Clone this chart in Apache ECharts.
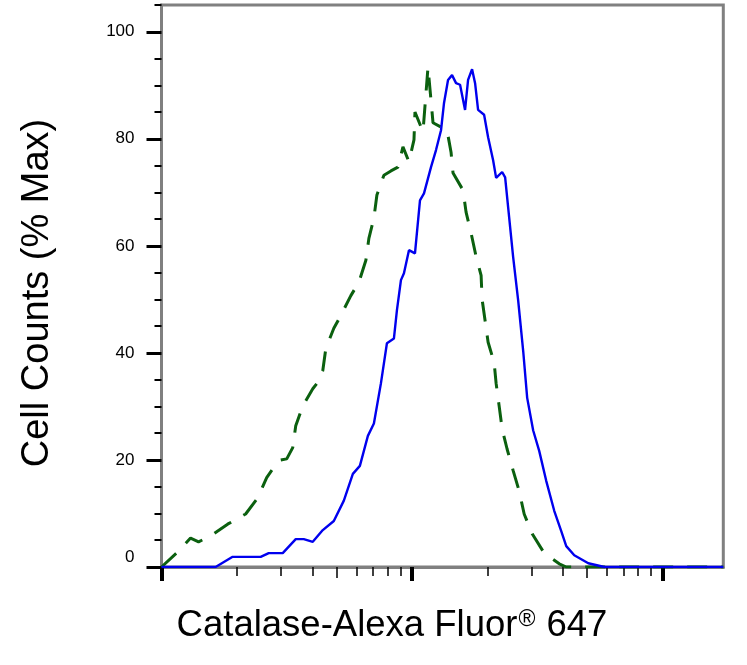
<!DOCTYPE html>
<html>
<head>
<meta charset="utf-8">
<script src="https://cdn.jsdelivr.net/npm/echarts@6/dist/echarts.min.js"></script>
<style>
  html, body { margin: 0; padding: 0; background: #fff; }
  #chart { width: 747px; height: 665px; }
</style>
</head>
<body>
<div id="chart"></div>
<script>
// Fluorescence intensity in decades (log10 units from the left edge of the axis)
const blueX = [0.000, 0.216, 0.284, 0.396, 0.428, 0.484, 0.536, 0.568, 0.604, 0.644, 0.688, 0.728, 0.764, 0.792, 0.824, 0.848, 0.876, 0.900, 0.928, 0.940, 0.956, 0.968, 0.988, 1.012, 1.032, 1.048, 1.076, 1.096, 1.116, 1.128, 1.144, 1.160, 1.176, 1.192, 1.212, 1.224, 1.240, 1.252, 1.264, 1.288, 1.304, 1.324, 1.336, 1.360, 1.372, 1.384, 1.404, 1.424, 1.444, 1.460, 1.484, 1.508, 1.536, 1.568, 1.596, 1.616, 1.648, 1.704, 1.768, 2.243];
const blueY = [0, 0, 1.9, 1.9, 2.6, 2.6, 5.2, 5.2, 4.7, 6.9, 8.6, 12.4, 17.4, 18.9, 24.5, 26.8, 34.3, 41.8, 42.7, 48.0, 53.6, 54.9, 59.2, 58.6, 68.5, 69.8, 74.7, 77.9, 81.6, 86.7, 91.0, 91.9, 90.4, 90.1, 85.4, 91.0, 93.0, 90.4, 85.4, 84.5, 80.3, 76.0, 72.7, 73.8, 72.8, 67.2, 57.9, 49.8, 40.4, 31.6, 25.5, 21.7, 16.1, 10.5, 6.7, 3.9, 2.2, 0.7, 0, 0];

const greenX = [0.000, 0.060, 0.116, 0.148, 0.196, 0.264, 0.336, 0.384, 0.420, 0.468, 0.500, 0.524, 0.536, 0.564, 0.604, 0.624, 0.644, 0.656, 0.688, 0.716, 0.756, 0.788, 0.816, 0.828, 0.848, 0.860, 0.888, 0.916, 0.944, 0.964, 0.988, 1.008, 1.012, 1.044, 1.064, 1.084, 1.140, 1.156, 1.164, 1.204, 1.216, 1.236, 1.256, 1.276, 1.280, 1.292, 1.304, 1.328, 1.336, 1.348, 1.360, 1.380, 1.404, 1.428, 1.448, 1.480, 1.528, 1.588, 1.616, 2.243];
const greenY = [0, 2.6, 5.4, 4.7, 5.8, 8.0, 9.9, 12.9, 16.7, 19.9, 20.2, 22.3, 26.4, 30.1, 33.3, 34.5, 36.7, 40.8, 44.6, 47.0, 50.7, 53.2, 57.3, 61.4, 65.2, 69.5, 73.2, 74.0, 74.7, 78.5, 75.7, 79.8, 85.0, 81.3, 93.4, 83.0, 81.6, 77.5, 73.6, 70.4, 66.3, 62.4, 58.0, 54.5, 50.0, 46.0, 42.0, 38.2, 34.3, 30.1, 25.8, 22.0, 18.0, 14.2, 9.9, 6.2, 2.6, 0.6, 0, 0];

const yMajorTicks = [0, 20, 40, 60, 80, 100];
const yMinorTicks = [5, 10, 15, 25, 30, 35, 45, 50, 55, 65, 70, 75, 85, 90, 95, 105];
const xMajorDecades = [0, 1, 2];
const xMinorFactors = [2, 3, 4, 6, 7, 8, 9];
const xMidFactors = [5];

const xTitle = 'Catalase-Alexa Fluor';
const xTitleMark = '®';
const xTitleTail = ' 647';
const yTitle = 'Cell Counts (% Max)';

const X_MAX = 2.243;
const Y_MAX = 105;
const FONT = '"Liberation Sans", Arial, sans-serif';

function zip(xs, ys) { return xs.map((x, i) => [x, ys[i]]); }
function decadeTicks(factors) {
  const out = [];
  xMajorDecades.forEach(d => factors.forEach(f => {
    const v = d + Math.log10(f);
    if (v <= X_MAX) out.push(v);
  }));
  return out;
}

const chart = echarts.init(document.getElementById('chart'), null, { renderer: 'canvas' });

const hiddenLine = { show: false };
function xAxisTicks(values, len, width) {
  return {
    type: 'value', min: 0, max: X_MAX, position: 'bottom', gridIndex: 0,
    axisLine: hiddenLine, splitLine: { show: false }, axisLabel: { show: false },
    axisTick: { show: true, customValues: values, length: len, lineStyle: { color: '#000', width: width } }
  };
}

chart.setOption({
  animation: false,
  backgroundColor: '#fff',
  grid: {
    left: 161.5, right: 23.7, top: 5, bottom: 98,
    show: true, borderColor: '#808080', borderWidth: 3, backgroundColor: 'transparent'
  },
  xAxis: [
    {
      type: 'value', min: 0, max: X_MAX, position: 'bottom',
      axisLine: { show: true, lineStyle: { color: '#808080', width: 3 } },
      splitLine: { show: false },
      axisLabel: { show: false },
      axisTick: { show: true, customValues: xMajorDecades, length: 14, lineStyle: { color: '#000', width: 4 } }
    },
    xAxisTicks(decadeTicks(xMinorFactors), 9, 1.5),
    xAxisTicks(decadeTicks(xMidFactors), 11, 1.5)
  ],
  yAxis: [
    {
      type: 'value', min: 0, max: Y_MAX, position: 'left',
      axisLine: { show: true, lineStyle: { color: '#808080', width: 3 } },
      splitLine: { show: false },
      axisTick: { show: true, customValues: yMajorTicks, length: 15, lineStyle: { color: '#000', width: 3 } },
      axisLabel: {
        show: true, customValues: yMajorTicks, margin: 27,
        color: '#000', fontFamily: FONT, fontSize: 17,
        formatter: v => v === 0 ? '{z|0}' : String(v),
        rich: { z: { fontFamily: FONT, fontSize: 17, color: '#000', padding: [0, 0, 19, 0] } }
      }
    },
    {
      type: 'value', min: 0, max: Y_MAX, position: 'left',
      axisLine: hiddenLine, splitLine: { show: false }, axisLabel: { show: false },
      axisTick: { show: true, customValues: yMinorTicks, length: 7, lineStyle: { color: '#000', width: 2 } }
    }
  ],
  graphic: [
    {
      type: 'text', x: 392, y: 626,
      style: {
        text: '{a|' + xTitle + '}{r|' + xTitleMark + '}{a|' + xTitleTail + '}',
        align: 'center', verticalAlign: 'middle',
        textAlign: 'center', textVerticalAlign: 'middle',
        fill: '#000',
        rich: {
          a: { fontFamily: FONT, fontSize: 36.5, fill: '#000', color: '#000' },
          r: { fontFamily: FONT, fontSize: 23, fill: '#000', color: '#000', padding: [0, 1, 12, 1] }
        }
      }
    },
    {
      type: 'text', x: 38, y: 293, rotation: Math.PI / 2,
      style: {
        text: yTitle, font: '38px ' + FONT,
        align: 'center', verticalAlign: 'middle',
        textAlign: 'center', textVerticalAlign: 'middle',
        fill: '#000'
      }
    }
  ],
  series: [
    {
      type: 'line', name: 'isotype', xAxisIndex: 0, yAxisIndex: 0,
      data: zip(greenX, greenY), showSymbol: false, symbol: 'none',
      lineStyle: { color: '#0b600f', width: 3, type: [20, 14] },
      z: 3
    },
    {
      type: 'line', name: 'Catalase', xAxisIndex: 0, yAxisIndex: 0,
      data: zip(blueX, blueY), showSymbol: false, symbol: 'none',
      lineStyle: { color: '#0000ee', width: 2.4 },
      z: 4
    }
  ]
});
</script>
</body>
</html>
